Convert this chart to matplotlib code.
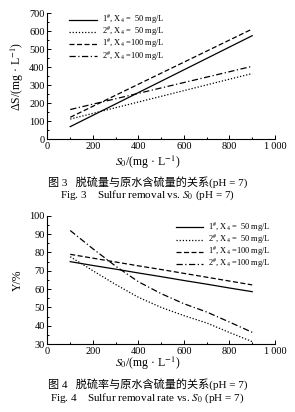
import matplotlib
matplotlib.use('Agg')
import matplotlib.pyplot as plt
from matplotlib.ticker import MultipleLocator, FixedLocator

plt.rcParams['font.family'] = ['Liberation Serif', 'Noto Sans CJK SC', 'DejaVu Sans']
plt.rcParams['mathtext.fontset'] = 'stix'

# Fig. 3: removed sulfur vs raw sulfur content
s0_lin = [100, 900]
ds_1_50 = [70, 575]
ds_2_50 = [112, 365]
ds_1_100 = [122, 612]
ds_2_100 = [165, 405]

# Fig. 4: removal rate vs raw sulfur content
s0_rate = [100, 200, 300, 400, 500, 600, 700, 800, 900]
y_1_50 = [75, 72.9, 70.9, 68.8, 66.8, 64.7, 62.7, 60.6, 58.6]
y_2_50 = [77.7, 70.0, 62.5, 55.5, 50.0, 45.5, 41.5, 36.3, 31.3]
y_1_100 = [79, 76.9, 74.8, 72.7, 70.7, 68.6, 66.5, 64.4, 62.3]
y_2_100 = [92, 82, 72.5, 64, 57.5, 52, 47.5, 42, 36.4]

labels = ['1$^{\\#}$, X$_4$ =  50 mg/L', '2$^{\\#}$, X$_4$ =  50 mg/L',
          '1$^{\\#}$, X$_4$ =100 mg/L', '2$^{\\#}$, X$_4$ =100 mg/L']
styles = ['-', (0, (1, 1.5)), (0, (4, 2)), (0, (5, 2, 1, 2))]
xticklabels = ['0', '200', '400', '600', '800', '1\u2009000']

fig = plt.figure(figsize=(2.95, 4.12), dpi=100)
ax1 = fig.add_axes([0.161, 0.662, 0.771, 0.306])
ax2 = fig.add_axes([0.161, 0.165, 0.771, 0.311])


def style_axes(ax):
    for side in ['top', 'right']:
        ax.spines[side].set_visible(False)
    for side in ['left', 'bottom']:
        ax.spines[side].set_linewidth(0.8)
    ax.set_xlim(0, 1000)
    ax.xaxis.set_major_locator(FixedLocator([0, 200, 400, 600, 800, 1000]))
    ax.set_xticklabels(xticklabels)
    ax.xaxis.set_minor_locator(MultipleLocator(100))
    ax.tick_params(which='both', direction='in', labelsize=7.5, width=0.7, pad=2)
    ax.tick_params(which='major', length=3)
    ax.tick_params(which='minor', length=1.6)
    ax.patch.set_alpha(0)


leg_kw = dict(loc='upper left', frameon=False, fontsize=6, handlelength=3.3,
              handletextpad=0.6, labelspacing=-0.15, handleheight=0.4, borderaxespad=0)

for ys, ls in zip([ds_1_50, ds_2_50, ds_1_100, ds_2_100], styles):
    ax1.plot(s0_lin, ys, color='black', linestyle=ls, linewidth=0.9)
style_axes(ax1)
ax1.set_ylim(0, 700)
ax1.yaxis.set_major_locator(MultipleLocator(100))
ax1.yaxis.set_minor_locator(MultipleLocator(50))
ax1.set_ylabel('ΔS/(mg · L$^{-1}$)', fontsize=8.5, labelpad=2)
ax1.legend(labels, bbox_to_anchor=(0.08, 1.03), **leg_kw)

for ys, ls in zip([y_1_50, y_2_50, y_1_100, y_2_100], styles):
    ax2.plot(s0_rate, ys, color='black', linestyle=ls, linewidth=0.9)
style_axes(ax2)
ax2.set_ylim(30, 100)
ax2.yaxis.set_major_locator(MultipleLocator(10))
ax2.yaxis.set_minor_locator(MultipleLocator(5))
ax2.set_ylabel('Y/%', fontsize=8.5, labelpad=4)
ax2.legend(labels, bbox_to_anchor=(0.55, 0.99), **leg_kw)

fig.text(0.5, 0.605, '$S_0$/(mg · L$^{-1}$)', ha='center', va='center', fontsize=8.5)
fig.text(0.5, 0.559, '图 3   脱硫量与原水含硫量的关系(pH = 7)', ha='center', va='center', fontsize=8)
fig.text(0.5, 0.525, 'Fig. 3    Sulfur removal vs. $S_0$ (pH = 7)', ha='center', va='center', fontsize=8)

fig.text(0.5, 0.117, '$S_0$/(mg · L$^{-1}$)', ha='center', va='center', fontsize=8.5)
fig.text(0.5, 0.068, '图 4   脱硫率与原水含硫量的关系(pH = 7)', ha='center', va='center', fontsize=8)
fig.text(0.5, 0.033, 'Fig. 4    Sulfur removal rate vs. $S_0$ (pH = 7)', ha='center', va='center', fontsize=8)

fig.savefig('out.png', dpi=100, facecolor='white')
